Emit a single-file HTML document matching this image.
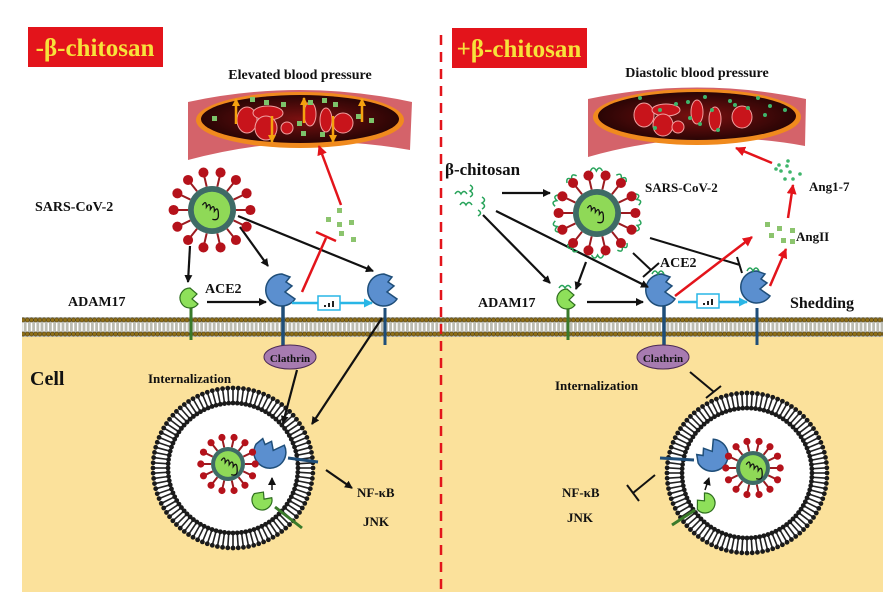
<!DOCTYPE html>
<html><head><meta charset="utf-8"><style>
html,body{margin:0;padding:0;background:#fff;width:895px;height:604px;overflow:hidden}
text{font-family:"Liberation Serif",serif;font-weight:bold;fill:#111}
</style></head><body>
<svg id="s" width="895" height="604" viewBox="0 0 895 604" xmlns="http://www.w3.org/2000/svg">
<defs>
<marker id="ab" markerWidth="8" markerHeight="8" refX="7" refY="4" orient="auto" markerUnits="userSpaceOnUse"><path d="M0,0 L8,4 L0,8 z" fill="#111"/></marker>
<marker id="ar" markerWidth="10" markerHeight="10" refX="9" refY="5" orient="auto" markerUnits="userSpaceOnUse"><path d="M0,0 L10,5 L0,10 z" fill="#e3141b"/></marker>
<marker id="ac" markerWidth="9" markerHeight="9" refX="8" refY="4.5" orient="auto" markerUnits="userSpaceOnUse"><path d="M0,0 L9,4.5 L0,9 z" fill="#29b6e6"/></marker>
<marker id="ao" markerWidth="8" markerHeight="8" refX="7" refY="4" orient="auto" markerUnits="userSpaceOnUse"><path d="M0,0 L8,4 L0,8 z" fill="#f5a20f"/></marker>
<pattern id="mem" width="4.2" height="20" patternUnits="userSpaceOnUse" y="317">
<rect width="4.2" height="20" fill="#bdbdb2"/>
<line x1="2.1" y1="3" x2="2.1" y2="17" stroke="#fff" stroke-width="1.4"/>
<circle cx="2.1" cy="3" r="2.1" fill="#8f6f18" stroke="#3a2c08" stroke-width="0.5"/>
<circle cx="2.1" cy="17" r="2.1" fill="#8f6f18" stroke="#3a2c08" stroke-width="0.5"/>
</pattern>
<radialGradient id="lum" cx="50%" cy="50%" r="50%"><stop offset="0" stop-color="#7a1010"/><stop offset="1" stop-color="#2a0505"/></radialGradient>
</defs>
<rect x="22" y="335" width="861" height="257" fill="#fbe19b"/>
<rect x="22" y="317" width="861" height="20" fill="url(#mem)"/>
<line x1="441" y1="35" x2="441" y2="592" stroke="#e3141b" stroke-width="2.5" stroke-dasharray="10,7"/>
<rect x="28" y="27" width="135" height="40" fill="#e3141b"/>
<text x="95" y="56" text-anchor="middle" font-size="25" style="fill:#f7e23b">-β-chitosan</text>
<rect x="452" y="28" width="135" height="40" fill="#e3141b"/>
<text x="519" y="57" text-anchor="middle" font-size="25" style="fill:#f7e23b">+β-chitosan</text>
<text x="300" y="79" text-anchor="middle" font-size="14">Elevated blood pressure</text>
<text x="697" y="77" text-anchor="middle" font-size="14">Diastolic blood pressure</text>
<g>
<path d="M188,102 Q300,78 412,102 L410,150 Q300,130 188,160 Z" fill="#d4636a"/>
<ellipse cx="300" cy="120" rx="104" ry="28" fill="#f08a1e"/>
<ellipse cx="300" cy="119" rx="99" ry="24" fill="url(#lum)"/>
</g>
<g>
<path d="M588,99 Q697,76 806,99 L805,146 Q697,126 588,157 Z" fill="#d4636a"/>
<ellipse cx="697" cy="117" rx="104" ry="28" fill="#f08a1e"/>
<ellipse cx="697" cy="116" rx="99" ry="24" fill="url(#lum)"/>
</g>
<g fill="#c8141b" stroke="#f0a0a0" stroke-width="1">
<ellipse cx="247" cy="120" rx="10" ry="13"/><ellipse cx="268" cy="113" rx="15" ry="7"/><ellipse cx="266" cy="128" rx="11" ry="12"/><ellipse cx="287" cy="128" rx="6" ry="6"/><ellipse cx="310" cy="114" rx="6" ry="12"/><ellipse cx="326" cy="120" rx="6" ry="12"/><ellipse cx="343" cy="123" rx="10" ry="10"/>
<ellipse cx="644" cy="115" rx="10" ry="12"/><ellipse cx="666" cy="110" rx="14" ry="6"/><ellipse cx="663" cy="125" rx="10" ry="11"/><ellipse cx="678" cy="127" rx="6" ry="6"/><ellipse cx="697" cy="112" rx="6" ry="12"/><ellipse cx="715" cy="119" rx="6" ry="12"/><ellipse cx="742" cy="117" rx="10" ry="11"/>
</g>
<g fill="#7cc36a">
<rect x="212" y="116" width="5" height="5"/><rect x="250" y="97" width="5" height="5"/><rect x="264" y="100" width="5" height="5"/><rect x="281" y="102" width="5" height="5"/><rect x="297" y="121" width="5" height="5"/><rect x="308" y="100" width="5" height="5"/><rect x="322" y="98" width="5" height="5"/><rect x="333" y="102" width="5" height="5"/><rect x="301" y="131" width="5" height="5"/><rect x="320" y="132" width="5" height="5"/><rect x="356" y="114" width="5" height="5"/><rect x="369" y="118" width="5" height="5"/>
</g>
<g fill="#3fb56b">
<circle cx="660" cy="110" r="2"/><circle cx="676" cy="104" r="2"/><circle cx="688" cy="102" r="2"/><circle cx="705" cy="97" r="2"/><circle cx="712" cy="110" r="2"/><circle cx="730" cy="101" r="2"/><circle cx="748" cy="108" r="2"/><circle cx="758" cy="98" r="2"/><circle cx="770" cy="106" r="2"/><circle cx="785" cy="110" r="2"/><circle cx="655" cy="128" r="2"/><circle cx="700" cy="124" r="2"/><circle cx="718" cy="130" r="2"/><circle cx="735" cy="105" r="2"/><circle cx="690" cy="118" r="2"/><circle cx="765" cy="115" r="2"/><circle cx="640" cy="98" r="2"/>
</g>
<g stroke="#f5a20f" stroke-width="2.5" marker-end="url(#ao)">
<line x1="236" y1="124" x2="236" y2="99"/><line x1="272" y1="116" x2="272" y2="142"/><line x1="304" y1="123" x2="304" y2="98"/><line x1="333" y1="116" x2="333" y2="142"/><line x1="362" y1="122" x2="362" y2="99"/>
</g>
<text x="35" y="211" font-size="14">SARS-CoV-2</text>
<text x="68" y="306" font-size="14">ADAM17</text>
<text x="205" y="293" font-size="14">ACE2</text>
<text x="30" y="385" font-size="20">Cell</text>
<text x="148" y="383" font-size="13">Internalization</text>
<text x="357" y="497" font-size="13">NF-κB</text>
<text x="363" y="526" font-size="13">JNK</text>
<text x="445" y="175" font-size="17">β-chitosan</text>
<text x="645" y="192" font-size="13">SARS-CoV-2</text>
<text x="809" y="191" font-size="13">Ang1-7</text>
<text x="796" y="241" font-size="13">AngII</text>
<text x="660" y="267" font-size="14">ACE2</text>
<text x="478" y="307" font-size="14">ADAM17</text>
<text x="790" y="308" font-size="16">Shedding</text>
<text x="555" y="390" font-size="13">Internalization</text>
<text x="562" y="497" font-size="13">NF-κB</text>
<text x="567" y="522" font-size="13">JNK</text>
<g id="ves"></g>
<g>
<line x1="283" y1="300" x2="283" y2="350" stroke="#1f4e79" stroke-width="3.5"/>
<ellipse cx="290" cy="357" rx="26" ry="12" fill="#a77bb0" stroke="#4b2a55"/>
<text x="290" y="362" text-anchor="middle" font-size="11">Clathrin</text>
<line x1="664" y1="300" x2="664" y2="350" stroke="#1f4e79" stroke-width="3.5"/>
<ellipse cx="663" cy="357" rx="26" ry="12" fill="#a77bb0" stroke="#4b2a55"/>
<text x="663" y="362" text-anchor="middle" font-size="11">Clathrin</text>
<line x1="385" y1="308" x2="385" y2="345" stroke="#1f4e79" stroke-width="3"/>
<line x1="757" y1="308" x2="757" y2="345" stroke="#1f4e79" stroke-width="3"/>
<line x1="191" y1="305" x2="191" y2="340" stroke="#3a7a2a" stroke-width="3"/>
<line x1="568" y1="305" x2="568" y2="340" stroke="#3a7a2a" stroke-width="3"/>
</g>
<g id="rec"></g>
<g stroke="#111" stroke-width="2.2" fill="none" marker-end="url(#ab)">
<line x1="190" y1="246" x2="188" y2="282"/>
<line x1="240" y1="227" x2="268" y2="266"/>
<line x1="238" y1="216" x2="373" y2="271"/>
<line x1="207" y1="302" x2="266" y2="302"/>
<line x1="297" y1="370" x2="283" y2="423"/>
<line x1="382" y1="318" x2="312" y2="424"/>
<line x1="326" y1="470" x2="352" y2="488"/>
<line x1="502" y1="193" x2="550" y2="193"/>
<line x1="483" y1="215" x2="550" y2="283"/>
<line x1="496" y1="211" x2="648" y2="287"/>
<line x1="586" y1="262" x2="576" y2="289"/>
<line x1="587" y1="302" x2="643" y2="302"/>
</g>
<g stroke="#111" stroke-width="2" fill="none">
<line x1="633" y1="253" x2="651" y2="270"/><line x1="643" y1="277" x2="659" y2="263"/>
<line x1="650" y1="238" x2="740" y2="265"/><line x1="737" y1="257" x2="742" y2="273"/>
<line x1="690" y1="372" x2="714" y2="392"/><line x1="706" y1="398" x2="721" y2="386"/>
<line x1="655" y1="475" x2="633" y2="493"/><line x1="627" y1="485" x2="639" y2="501"/>
</g>
<g stroke="#e3141b" stroke-width="2.5" fill="none">
<line x1="341" y1="205" x2="319" y2="146" marker-end="url(#ar)"/>
<line x1="302" y1="292" x2="326" y2="238"/><line x1="316" y1="232" x2="336" y2="241"/>
<line x1="772" y1="163" x2="736" y2="148" marker-end="url(#ar)"/>
<line x1="788" y1="218" x2="793" y2="185" marker-end="url(#ar)"/>
<line x1="675" y1="296" x2="752" y2="237" marker-end="url(#ar)"/>
<line x1="770" y1="286" x2="786" y2="249" marker-end="url(#ar)"/>
</g>
<g stroke="#29b6e6" stroke-width="2.5" marker-end="url(#ac)">
<line x1="292" y1="303" x2="372" y2="303"/><line x1="678" y1="302" x2="747" y2="302"/>
</g>
<g fill="#fff" stroke="#29b6e6" stroke-width="1.5"><rect x="318" y="296" width="22" height="14"/><rect x="697" y="294" width="22" height="14"/></g>
<g fill="#222"><rect x="324" y="305" width="2" height="2"/><rect x="328" y="303" width="2" height="4"/><rect x="332" y="301" width="2" height="6"/><rect x="703" y="303" width="2" height="2"/><rect x="707" y="301" width="2" height="4"/><rect x="711" y="299" width="2" height="6"/></g>
<g fill="#8cc46e">
<rect x="337" y="208" width="5" height="5"/><rect x="326" y="217" width="5" height="5"/><rect x="337" y="222" width="5" height="5"/><rect x="349" y="220" width="5" height="5"/><rect x="339" y="231" width="5" height="5"/><rect x="351" y="237" width="5" height="5"/>
<rect x="765" y="222" width="5" height="5"/><rect x="777" y="226" width="5" height="5"/><rect x="790" y="228" width="5" height="5"/><rect x="769" y="233" width="5" height="5"/><rect x="781" y="238" width="5" height="5"/><rect x="790" y="239" width="5" height="5"/>
</g>
<g fill="#3fb56b">
<circle cx="779" cy="165" r="1.8"/><circle cx="787" cy="166" r="1.8"/><circle cx="788" cy="161" r="1.8"/><circle cx="781" cy="171" r="1.8"/><circle cx="790" cy="172" r="1.8"/><circle cx="800" cy="174" r="1.8"/><circle cx="785" cy="179" r="1.8"/><circle cx="793" cy="179" r="1.8"/><circle cx="776" cy="169" r="1.8"/>
</g>
<g stroke="#27a35a" stroke-width="1.5" fill="none">
<path d="M455,194 q3,-5 6,0 q3,-5 6,0"/><path d="M470,185 q5,3 0,6 q5,3 0,6"/><path d="M460,205 q3,-5 6,0 q3,-5 6,0"/><path d="M482,197 q5,3 0,6 q5,3 0,6"/><path d="M478,210 q5,3 0,6"/>
</g>
</svg>
<script>
var S="http://www.w3.org/2000/svg",svg=document.getElementById('s');
function el(t,a,p){var e=document.createElementNS(S,t);for(var k in a)e.setAttribute(k,a[k]);(p||svg).appendChild(e);return e;}
var ves=document.getElementById('ves');
function vesicle(cx,cy){
 el('circle',{cx:cx,cy:cy,r:80,fill:'#fff'},ves);
 var n=96;for(var i=0;i<n;i++){var a=i/n*2*Math.PI,c=Math.cos(a),s=Math.sin(a);
  el('line',{x1:cx+c*66,y1:cy+s*66,x2:cx+c*78,y2:cy+s*78,stroke:'#222','stroke-width':1.6},ves);
  el('circle',{cx:cx+c*65,cy:cy+s*65,r:2.4,fill:'#1a1a1a'},ves);
  el('circle',{cx:cx+c*80,cy:cy+s*80,r:2.4,fill:'#1a1a1a'},ves);}
}
vesicle(233,468);vesicle(747,473);
function virus(cx,cy,r,coat){
 var g=el('g',{});
 if(coat){for(var i=0;i<10;i++){var a=i/10*2*Math.PI+0.3;var x=cx+Math.cos(a)*r*1.75,y=cy+Math.sin(a)*r*1.75;
  el('path',{d:'M'+(x-6)+','+y+' q3,-6 6,0 q3,-6 6,0',stroke:'#27a35a','stroke-width':1.5,fill:'none',transform:'rotate('+(a*180/Math.PI+90)+' '+x+' '+y+')'},g);}}
 var n=14;for(var i=0;i<n;i++){var a=i/n*2*Math.PI,c=Math.cos(a),s=Math.sin(a);
  el('line',{x1:cx+c*r,y1:cy+s*r,x2:cx+c*r*1.55,y2:cy+s*r*1.55,stroke:'#9b1b20','stroke-width':2},g);
  el('circle',{cx:cx+c*r*1.6,cy:cy+s*r*1.6,r:r*0.21,fill:'#b5121b'},g);}
 el('circle',{cx:cx,cy:cy,r:r,fill:'#3e6b66'},g);
 el('circle',{cx:cx,cy:cy,r:r*0.76,fill:'#8fd957'},g);
 el('path',{d:'M'+(cx-r*0.4)+','+(cy-r*0.2)+' q4,-6 4,2 q4,-6 4,2 q4,-6 4,2 q4,-6 4,4 q0,6 -6,4',stroke:'#111','stroke-width':1.3,fill:'none'},g);
}
virus(212,210,24,false);virus(597,213,24,true);virus(228,464,17,false);virus(753,468,17,false);
var rec=document.getElementById('rec');
function blue(x,y,rot,coat){var g=el('g',{transform:'translate('+x+','+y+') rotate('+(rot||0)+')'},rec);
 el('path',{d:'M0,-16 A16,16 0 1 0 13,9 L3,2 L10,-4 L4,-8 L8,-13 Z',fill:'#5b8fcf',stroke:'#1f4e79','stroke-width':1.5},g);
 if(coat)el('path',{d:'M-10,-16 q3,-6 6,0 q3,-6 6,0',stroke:'#27a35a','stroke-width':1.5,fill:'none'},g);}
function green(x,y,rot,coat){var g=el('g',{transform:'translate('+x+','+y+') rotate('+(rot||0)+')'},rec);
 el('path',{d:'M0,-10 A10,10 0 1 0 8,6 L2,1 L7,-4 Z',fill:'#8ee05a',stroke:'#2f6f1f','stroke-width':1.2},g);
 if(coat)el('path',{d:'M-8,-11 q3,-5 6,0 q3,-5 6,0',stroke:'#27a35a','stroke-width':1.5,fill:'none'},g);}
blue(282,290);blue(384,290);green(190,298);
blue(662,290,0,true);blue(757,287,0,true);green(567,299,0,true);
blue(270,452,-60);green(262,500,-50);
blue(712,455,-120);green(705,503,-130);
el('line',{x1:288,y1:458,x2:318,y2:462,stroke:'#1f4e79','stroke-width':3},rec);
el('line',{x1:275,y1:507,x2:302,y2:528,stroke:'#3a7a2a','stroke-width':3},rec);
el('line',{x1:694,y1:460,x2:660,y2:458,stroke:'#1f4e79','stroke-width':3},rec);
el('line',{x1:695,y1:510,x2:672,y2:525,stroke:'#3a7a2a','stroke-width':3},rec);
el('line',{x1:272,y1:490,x2:272,y2:478,stroke:'#111','stroke-width':1.5,'marker-end':'url(#ab)'},rec);
el('line',{x1:705,y1:490,x2:709,y2:478,stroke:'#111','stroke-width':1.5,'marker-end':'url(#ab)'},rec);
</script>
</body></html>
